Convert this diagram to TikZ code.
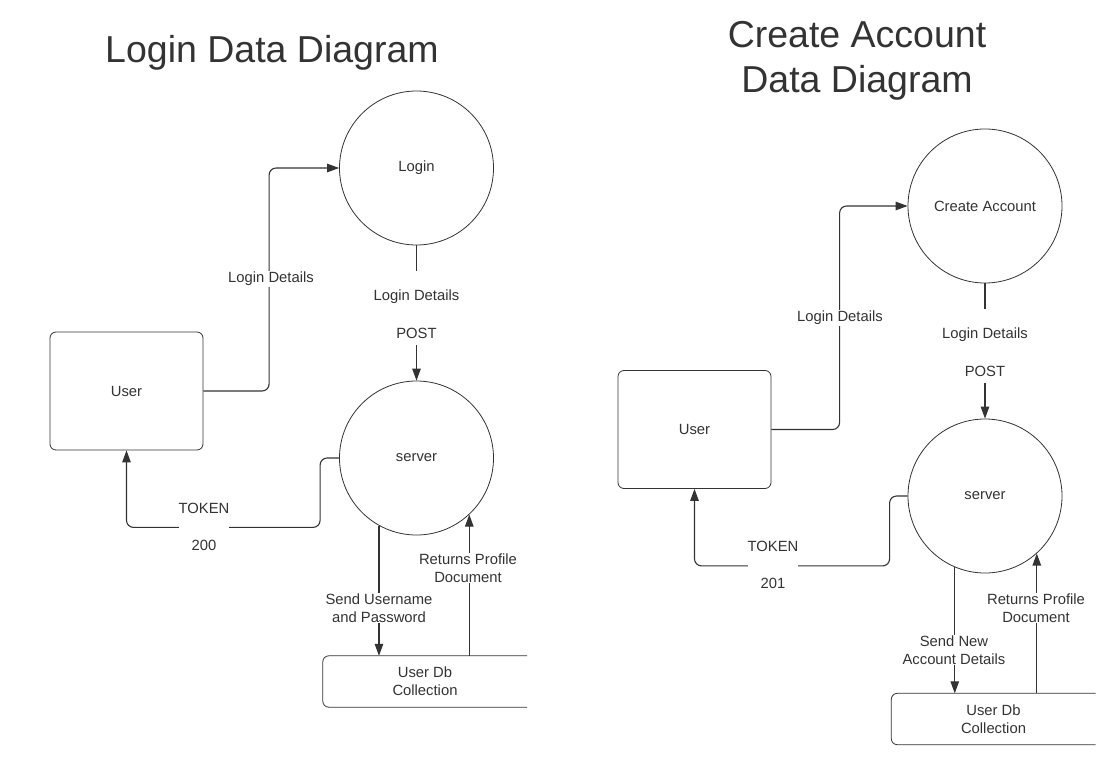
\documentclass[tikz,border=0pt]{standalone}
\usepackage{fontspec}
\setmainfont{Liberation Sans}
\usetikzlibrary{arrows.meta,calc}
\definecolor{ink}{HTML}{333333}
\begin{document}
\begin{tikzpicture}[x=1pt,y=-1pt,
  shapeline/.style={draw=ink, line width=0.8pt},
  txt/.style={text=ink, font=\fontsize{14.8}{17.8}\selectfont, align=center},
  proc/.style={circle, shapeline, minimum size=154pt, inner sep=0pt, txt},
  ent/.style={rectangle, rounded corners=6pt, shapeline, minimum width=153pt, minimum height=118pt, txt},
  store/.style={rectangle, minimum width=204pt, minimum height=51pt, inner sep=0pt, txt},
  flow/.style={draw=ink, line width=1.1pt, rounded corners=7pt},
  arr/.style={flow, -{Triangle[length=12pt,width=8.5pt]}},
  lbl/.style={txt, fill=white, inner sep=1pt},
  ttl/.style={text=ink, font=\fontsize{37.5}{45}\selectfont, align=center}]
\useasboundingbox (0,0) rectangle (1114,760);
\fill[white] (0,0) rectangle (1114,760);

% ---------- Left diagram ----------
\node[ttl] (t1) at (272,53) {Login Data Diagram};
\node[proc] (loginL) at (416.5,168) {\raisebox{-1.5pt}{Login}};
\node[proc] (serverL) at (416.5,458) {\raisebox{-1.5pt}{server}};
\node[ent] (userL) at (126.5,391) {User};
\node[store] (dbL) at (425,681.5) {User Db\\Collection};
\draw[shapeline, rounded corners=6pt] (dbL.north east) -- (dbL.north west) -- (dbL.south west) -- (dbL.south east);

\draw[arr] (userL.east) -| ($(loginL.west)+(-70,0)$) -- (loginL.west);
\draw[flow] (loginL.south) -- ++(0,26);
\node[txt] (ld2L) at (416.5,297) {Login Details};
\node[txt] (postL) at (416.5,333) {POST};
\draw[arr] ($(postL.south)+(0,3)$) -- (serverL.north);
\draw[arr] (serverL.west) -- ++(-19,0) |- ($(userL.south)+(0,77)$) -- (userL.south);
\draw[arr] (serverL.-119) -- (serverL.-119 |- dbL.north);
\draw[arr] (serverL.-47.5 |- dbL.north) -- (serverL.-47.5);

\node[lbl] (ld1L) at (271,279) {Login Details};
\node[lbl, inner xsep=0pt] (tokL) at (204,527) {TOKEN\\[19pt]200};
\node[lbl] (sendL) at (379,608) {Send Username\\and Password};
\node[lbl] (retL) at (468,568) {Returns Profile\\Document};

% ---------- Right diagram ----------
\node[ttl] (t2) at (857,61) {Create Account\\Data Diagram};
\node[proc] (createR) at (985,206) {\raisebox{-1.5pt}{Create Account}};
\node[proc] (serverR) at (985,496) {\raisebox{-1.5pt}{server}};
\node[ent] (userR) at (694.5,429.5) {User};
\node[store] (dbR) at (993.5,719) {User Db\\Collection};
\draw[shapeline, rounded corners=6pt] (dbR.north east) -- (dbR.north west) -- (dbR.south west) -- (dbR.south east);

\draw[arr] (userR.east) -| ($(createR.west)+(-68,0)$) -- (createR.west);
\draw[flow] (createR.south) -- ++(0,26);
\node[txt] (ld2R) at (985,335) {Login Details};
\node[txt] (postR) at (985,371) {POST};
\draw[arr] ($(postR.south)+(0,3)$) -- (serverR.north);
\draw[arr] (serverR.west) -- ++(-18,0) |- ($(userR.south)+(0,77)$) -- (userR.south);
\draw[arr] (serverR.-113.7) -- (serverR.-113.7 |- dbR.north);
\draw[arr] (serverR.-48.5 |- dbR.north) -- (serverR.-48.5);

\node[lbl] (ld1R) at (840,318) {Login Details};
\node[lbl, inner xsep=0pt] (tokR) at (773,565) {TOKEN\\[19pt]201};
\node[lbl] (sendR) at (954,650) {Send New\\Account Details};
\node[lbl] (retR) at (1036,608) {Returns Profile\\Document};
\end{tikzpicture}
\end{document}
